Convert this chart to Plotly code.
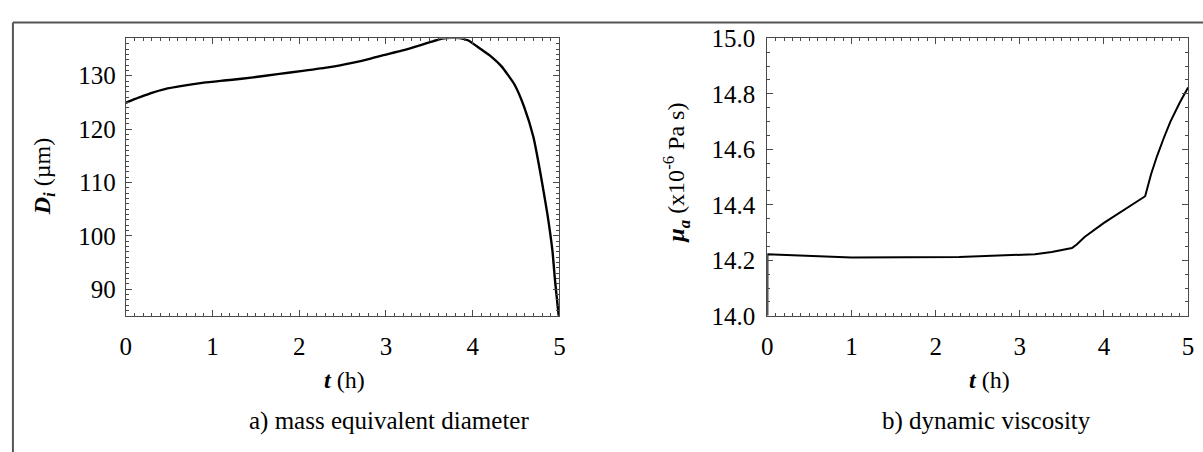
import plotly.graph_objects as go

# (a) mass equivalent diameter D_i (µm) against time t (h)
t_diam = [0, 0.1, 0.2, 0.3, 0.45, 0.65, 0.9, 1.2, 1.47, 1.75, 2.04, 2.35, 2.61, 2.8, 2.96,
          3.18, 3.41, 3.55, 3.65, 3.75, 3.85, 3.95, 4.10, 4.22, 4.33, 4.48, 4.59, 4.70,
          4.78, 4.86, 4.92, 4.95, 4.985, 5.0]
diam = [124.9, 125.6, 126.2, 126.8, 127.5, 128.1, 128.7, 129.2, 129.7, 130.3, 130.9, 131.6,
        132.4, 133.1, 133.8, 134.7, 135.8, 136.5, 136.95, 137.1, 137.05, 136.6, 134.9, 133.5,
        131.8, 128.4, 124.3, 118.5, 111.8, 104.2, 97.1, 91.5, 86.0, 83.5]

# (b) dynamic viscosity mu_a (x1e-6 Pa s) against time t (h)
t_visc = [0, 0.001, 0.15, 0.5, 1.0, 2.28, 3.18, 3.38, 3.55, 3.62, 3.68, 3.77, 4.0,
          4.49, 4.56, 4.63, 4.71, 4.79, 4.9, 5.0]
visc = [14.0, 14.222, 14.22, 14.215, 14.21, 14.212, 14.222, 14.230, 14.238, 14.244, 14.258,
        14.284, 14.335, 14.431, 14.51, 14.575, 14.64, 14.70, 14.768, 14.823]

x_ticks = [0, 1, 2, 3, 4, 5]
diam_ticks = [90, 100, 110, 120, 130]
visc_ticks = [14.0, 14.2, 14.4, 14.6, 14.8, 15.0]

W, H = 1203, 452
SERIF = "Liberation Serif, Times New Roman, serif"
AX = "#4a4a4a"


def px_x(x):
    return x / W


def px_y(y):
    return (H - y) / H


fig = go.Figure()
fig.add_trace(go.Scatter(x=t_diam, y=diam, mode="lines", xaxis="x", yaxis="y",
                         line=dict(color="black", width=2.4, shape="spline", smoothing=0.5),
                         showlegend=False, hoverinfo="skip"))
fig.add_trace(go.Scatter(x=t_visc, y=visc, mode="lines", xaxis="x2", yaxis="y2",
                         line=dict(color="black", width=2),
                         showlegend=False, hoverinfo="skip"))

tick_font = dict(family=SERIF, size=25, color="black")


def axis_style(dtick, minor_dtick, **kw):
    d = dict(
        showline=True, linecolor=AX, linewidth=1.2, mirror="allticks",
        ticks="inside", ticklen=6, tickwidth=1, tickcolor=AX,
        dtick=dtick, tick0=0, showgrid=False, zeroline=False,
        tickfont=tick_font,
        minor=dict(dtick=minor_dtick, ticks="inside", ticklen=3, tickwidth=1,
                   tickcolor=AX, showgrid=False),
    )
    d.update(kw)
    return d


y_dom = [px_y(322), px_y(27)]

fig.update_layout(
    width=W, height=H,
    margin=dict(l=0, r=0, t=0, b=0),
    paper_bgcolor="white", plot_bgcolor="white",
    xaxis=axis_style(1, 0.1, domain=[px_x(121), px_x(559)], range=[0, 5],
                     tickvals=x_ticks, anchor="y", ticklabelstandoff=8),
    yaxis=axis_style(10, 1, domain=y_dom, range=[85, 137], tickvals=diam_ticks,
                     anchor="x", ticklabelstandoff=4),
    xaxis2=axis_style(1, 0.1, domain=[px_x(769), px_x(1194)], range=[0, 5],
                      tickvals=x_ticks, anchor="y2", ticklabelstandoff=8),
    yaxis2=axis_style(0.2, 0.05, domain=y_dom, range=[14.0, 15.0], tickvals=visc_ticks,
                      tickformat=".1f", anchor="x2", ticklabelstandoff=6),
)

title_font = dict(family=SERIF, size=24, color="black")
cap_font = dict(family=SERIF, size=25, color="black")

annotations = [
    dict(text="<b><i>t</i></b> (h)", x=px_x(342), y=px_y(390), font=title_font),
    dict(text="<b><i>t</i></b> (h)", x=px_x(993), y=px_y(390), font=title_font),
    dict(text="<b><i>D<sub>i</sub></i></b> (µm)", x=px_x(38), y=px_y(174),
         textangle=-90, font=title_font),
    dict(text="<b><i>µ<sub>a</sub></i></b> (x10<sup>-6</sup> Pa s)", x=px_x(677), y=px_y(170),
         textangle=-90, font=title_font),
    dict(text="a) mass equivalent diameter", x=px_x(387), y=px_y(434), font=cap_font),
    dict(text="b) dynamic viscosity", x=px_x(990), y=px_y(434), font=cap_font),
]
for a in annotations:
    a.update(xref="paper", yref="paper", showarrow=False, xanchor="center", yanchor="middle")
fig.update_layout(annotations=annotations)

# outer frame (top and left edges)
fig.update_layout(shapes=[
    dict(type="line", xref="paper", yref="paper", x0=px_x(7), x1=1.01, y0=px_y(10), y1=px_y(10),
         line=dict(color="#555555", width=2)),
    dict(type="line", xref="paper", yref="paper", x0=px_x(7), x1=px_x(7), y0=px_y(10), y1=-0.05,
         line=dict(color="#555555", width=2)),
])

fig.write_html("out.html")
